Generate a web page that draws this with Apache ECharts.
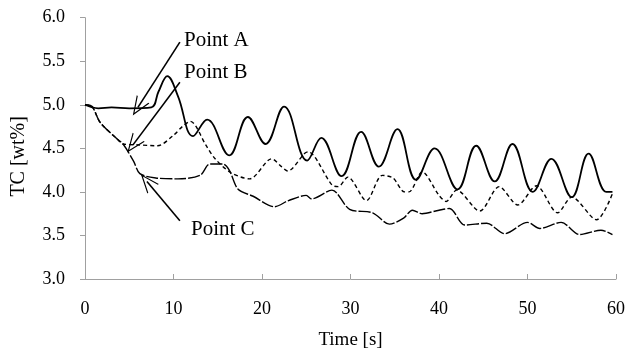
<!DOCTYPE html>
<html>
<head>
<meta charset="utf-8">
<script src="https://cdn.jsdelivr.net/npm/echarts@6/dist/echarts.min.js"></script>
<style>
    html, body { margin: 0; padding: 0; background: #fff; }
    #chart { width: 628px; height: 355px; }
</style>
</head>
<body>
<div id="chart"></div>
<script>
// Point A (solid)
var timeA = [0, 1.5, 3, 5, 7.5, 8.3, 9.3, 10.5, 12.2, 13.8, 16.3, 18.4, 20.4, 22.5, 25.1, 26.7, 29.0, 31.2, 33.2, 35.3, 37.4, 39.5, 42.1, 44.2, 46.3, 48.3, 50.6, 52.7, 55.0, 56.9, 58.9, 59.6]
var tcA = [5.0, 4.96, 4.97, 4.96, 4.97, 5.15, 5.33, 5.1, 4.64, 4.83, 4.42, 4.86, 4.55, 4.98, 4.36, 4.62, 4.18, 4.69, 4.29, 4.72, 4.14, 4.50, 4.03, 4.53, 4.12, 4.55, 4.0, 4.38, 3.94, 4.44, 4.0, 4.0]

// Point B (dashed)
var timeB = [0, 0.8, 1.7, 3.6, 4.3, 6, 8.2, 10, 11, 11.9, 13.7, 14.7, 16.5, 18.6, 21.1, 22.2, 22.9, 24.8, 25.2, 27.9, 28.6, 29.7, 31.8, 33.6, 34.8, 36.1, 36.6, 38.1, 40.0, 40.8, 42.0, 44.6, 46.8, 48.9, 51.0, 53.4, 55.0, 57.8, 59.6]
var tcB = [5.0, 4.98, 4.80, 4.61, 4.55, 4.54, 4.53, 4.65, 4.75, 4.81, 4.53, 4.38, 4.22, 4.15, 4.38, 4.29, 4.24, 4.44, 4.46, 4.08, 4.06, 4.17, 3.90, 4.19, 4.16, 4.0, 4.0, 4.23, 3.96, 3.89, 4.02, 3.78, 4.06, 3.85, 4.07, 3.76, 3.94, 3.68, 3.98]

// Point C (long dash)
var timeC = [0, 0.8, 1.7, 3.6, 4.3, 5.5, 6.2, 8, 10.5, 13, 14.1, 15.6, 16.3, 17.3, 19, 21.4, 23, 25, 25.6, 27.9, 29.9, 32.5, 34.4, 36, 37, 38.1, 40, 41.2, 42.9, 45.4, 47.4, 50, 51.4, 53.8, 55.9, 58.3, 59.6]
var tcC = [5.0, 4.98, 4.80, 4.61, 4.55, 4.35, 4.21, 4.16, 4.15, 4.19, 4.32, 4.32, 4.25, 4.03, 3.95, 3.83, 3.90, 3.96, 3.92, 4.02, 3.80, 3.76, 3.63, 3.70, 3.79, 3.75, 3.79, 3.81, 3.62, 3.64, 3.52, 3.65, 3.58, 3.65, 3.51, 3.56, 3.51]

var xTicks = [0, 10, 20, 30, 40, 50, 60]
var yTicks = [3.0, 3.5, 4.0, 4.5, 5.0, 5.5, 6.0]

// annotation arrows [from, to] in data coords
var arrowA = [[10.72, 5.72], [5.98, 4.97]]
var arrowB = [[10.72, 5.26], [5.42, 4.54]]
var arrowC = [[10.72, 3.67], [7.0, 4.12]]

function pairs(t, v) {
    var out = []
    for (var i = 0; i < t.length; i++) out.push([t[i], v[i]])
    return out
}

var font = 'Liberation Serif'
var openArrow = 'path://M6,0 L12,15 L11,15 L6,2.5 L1,15 L0,15 Z'

var chart = echarts.init(document.getElementById('chart'))
var option = {
    animation: false,
    grid: { left: 85, right: 11, top: 17.7, bottom: 73.3 },
    xAxis: {
        type: 'value',
        min: xTicks[0],
        max: xTicks[xTicks.length - 1],
        interval: 10,
        name: 'Time [s]',
        nameLocation: 'middle',
        nameGap: 52,
        nameTextStyle: { fontFamily: font, fontSize: 19, color: '#000' },
        axisLine: { lineStyle: { color: '#a0a0a0', width: 1 } },
        axisTick: { inside: true, length: 5, lineStyle: { color: '#a0a0a0' } },
        axisLabel: { margin: 21, fontFamily: font, fontSize: 18, color: '#000' },
        splitLine: { show: false }
    },
    yAxis: {
        type: 'value',
        min: yTicks[0],
        max: yTicks[yTicks.length - 1],
        interval: 0.5,
        name: 'TC [wt%]',
        nameLocation: 'middle',
        nameGap: 56,
        nameTextStyle: { fontFamily: font, fontSize: 20, color: '#000', padding: [0, 16, 0, 0] },
        axisLine: { show: true, lineStyle: { color: '#a0a0a0', width: 1 } },
        axisTick: { show: true, length: 5, lineStyle: { color: '#a0a0a0' } },
        axisLabel: {
            margin: 20, fontFamily: font, fontSize: 18, color: '#000',
            formatter: function (v) { return v.toFixed(1) }
        },
        splitLine: { show: false }
    },
    series: [
        {
            name: 'Point A',
            type: 'line',
            data: pairs(timeA, tcA),
            smooth: 0.4,
            symbol: 'none',
            lineStyle: { color: '#000', width: 1.8 },
            markLine: {
                silent: true,
                symbol: ['none', openArrow],
                symbolSize: [15, 19],
                label: { show: false },
                lineStyle: { color: '#000', width: 1.6, type: 'solid' },
                data: [
                    [{ coord: arrowA[0] }, { coord: arrowA[1] }],
                    [{ coord: arrowB[0] }, { coord: arrowB[1] }],
                    [{ coord: arrowC[0] }, { coord: arrowC[1] }]
                ]
            }
        },
        {
            name: 'Point B',
            type: 'line',
            data: pairs(timeB, tcB),
            smooth: 0.3,
            symbol: 'none',
            lineStyle: { color: '#000', width: 1.4, type: [4, 3] }
        },
        {
            name: 'Point C',
            type: 'line',
            data: pairs(timeC, tcC),
            smooth: 0.3,
            symbol: 'none',
            lineStyle: { color: '#000', width: 1.4, type: [12, 2] }
        }
    ],
    graphic: [
        { type: 'text', left: 184, top: 30, style: { text: 'Point A', fontFamily: font, fontSize: 21, fill: '#000' } },
        { type: 'text', left: 184, top: 62, style: { text: 'Point B', fontFamily: font, fontSize: 21, fill: '#000' } },
        { type: 'text', left: 191, top: 219, style: { text: 'Point C', fontFamily: font, fontSize: 21, fill: '#000' } }
    ]
}
chart.setOption(option)
window.addEventListener('resize', function () {
    chart.resize()
})
</script>
</body>
</html>
